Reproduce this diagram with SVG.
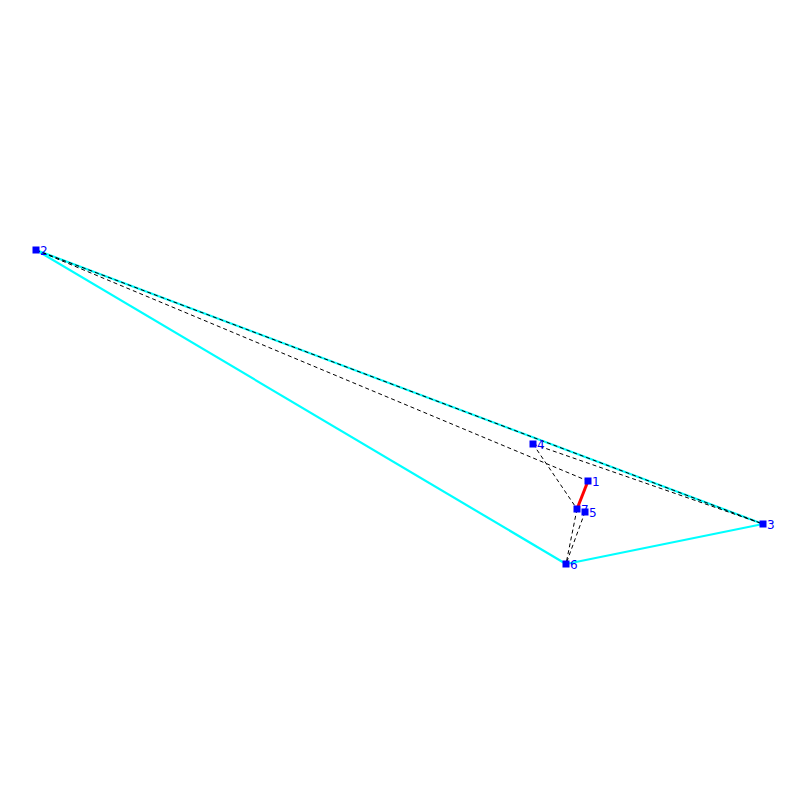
<svg xmlns="http://www.w3.org/2000/svg" width="800" height="800" viewBox="0 0 800 800">
<style>
.hull{stroke:#00ffff;stroke-width:2.2;fill:none}
.dash{stroke:#000;stroke-width:1;stroke-dasharray:4,3;fill:none}
.red{stroke:#ff0000;stroke-width:3;fill:none}
.nd rect{fill:#0000ff}
.nd text{fill:#0000ff;font-family:"DejaVu Sans",sans-serif;font-size:12px}
</style>
<rect width="800" height="800" fill="#fff"/>
<g id="connectors">
<line class="hull" x1="36" y1="250" x2="763" y2="524"/>
<line class="hull" x1="36" y1="250" x2="566" y2="564"/>
<line class="hull" x1="566" y1="564" x2="763" y2="524"/>
<line class="dash" x1="36" y1="250" x2="763" y2="524"/>
<line class="dash" x1="36" y1="250" x2="588" y2="481"/>
<line class="dash" x1="533" y1="444" x2="763" y2="524"/>
<line class="dash" x1="533" y1="444" x2="577" y2="509"/>
<line class="dash" x1="577" y1="509" x2="566" y2="564"/>
<line class="dash" x1="585" y1="512" x2="566" y2="564"/>
<line class="red" x1="588" y1="481" x2="577" y2="509"/>
</g>
<g id="n1" class="nd"><rect x="584.5" y="477.5" width="7" height="7"/><text x="592" y="486">1</text></g>
<g id="n2" class="nd"><rect x="32.5" y="246.5" width="7" height="7"/><text x="40" y="255">2</text></g>
<g id="n3" class="nd"><rect x="759.5" y="520.5" width="7" height="7"/><text x="767" y="529">3</text></g>
<g id="n4" class="nd"><rect x="529.5" y="440.5" width="7" height="7"/><text x="537" y="449">4</text></g>
<g id="n5" class="nd"><rect x="581.5" y="508.5" width="7" height="7"/><text x="589" y="517">5</text></g>
<g id="n6" class="nd"><rect x="562.5" y="560.5" width="7" height="7"/><text x="570" y="569">6</text></g>
<g id="n7" class="nd"><rect x="573.5" y="505.5" width="7" height="7"/><text x="581" y="514">7</text></g>
</svg>
